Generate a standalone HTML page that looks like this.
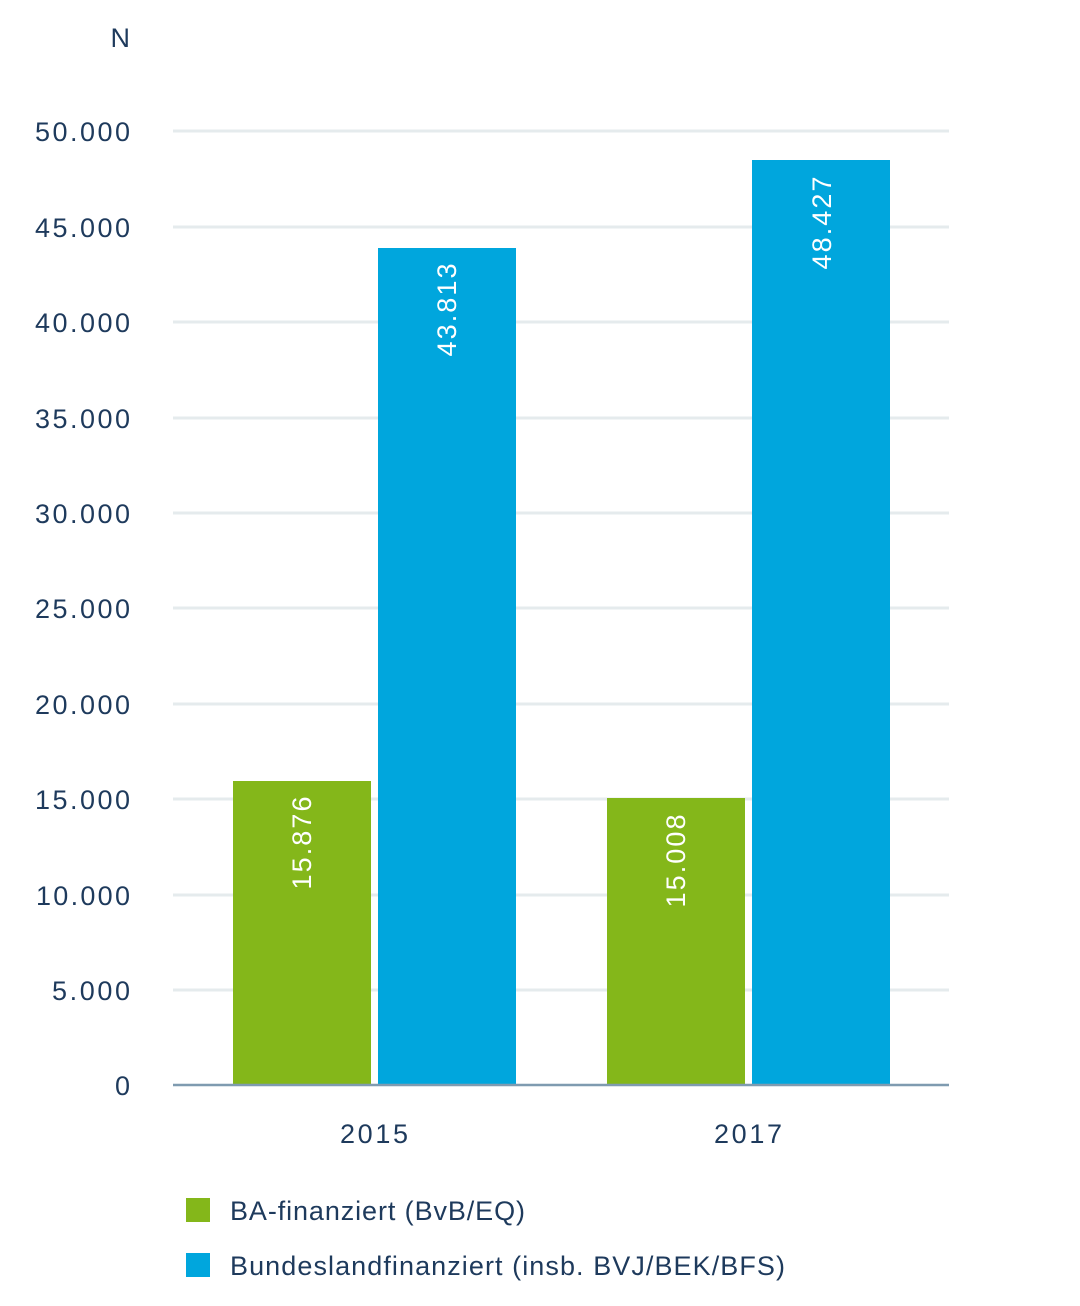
<!DOCTYPE html>
<html><head><meta charset="utf-8"><style>
html,body{margin:0;padding:0;background:#fff;}
svg text{font-family:"Liberation Sans",sans-serif;}
</style></head><body>
<svg width="1080" height="1301" viewBox="0 0 1080 1301" xmlns="http://www.w3.org/2000/svg">
<g stroke="#e5ebed" stroke-width="3">
<line x1="173" x2="949" y1="131" y2="131"/>
<line x1="173" x2="949" y1="227" y2="227"/>
<line x1="173" x2="949" y1="322" y2="322"/>
<line x1="173" x2="949" y1="418" y2="418"/>
<line x1="173" x2="949" y1="513" y2="513"/>
<line x1="173" x2="949" y1="608" y2="608"/>
<line x1="173" x2="949" y1="704" y2="704"/>
<line x1="173" x2="949" y1="799" y2="799"/>
<line x1="173" x2="949" y1="895" y2="895"/>
<line x1="173" x2="949" y1="990" y2="990"/>
</g>
<rect x="233" y="781" width="138" height="304" fill="#84b71a"/>
<rect x="378" y="248" width="138" height="837" fill="#00a6dd"/>
<rect x="607" y="798" width="138" height="287" fill="#84b71a"/>
<rect x="752" y="160" width="138" height="925" fill="#00a6dd"/>
<line x1="173" x2="949" y1="1085" y2="1085" stroke="#7f9bb0" stroke-width="2.5"/>
<g fill="#1e3a5c" font-size="27" text-anchor="end" lengthAdjust="spacingAndGlyphs">
<text x="130" y="141" textLength="95">50.000</text>
<text x="130" y="237" textLength="95">45.000</text>
<text x="130" y="332" textLength="95">40.000</text>
<text x="130" y="428" textLength="95">35.000</text>
<text x="130" y="523" textLength="95">30.000</text>
<text x="130" y="618" textLength="95">25.000</text>
<text x="130" y="714" textLength="95">20.000</text>
<text x="130" y="809" textLength="95">15.000</text>
<text x="130" y="905" textLength="94">10.000</text>
<text x="130" y="1000" textLength="78">5.000</text>
<text x="130" y="1095">0</text>
<text x="130" y="47">N</text>
</g>
<g fill="#1e3a5c" font-size="27" text-anchor="middle">
<text x="374" y="1143" textLength="68">2015</text>
<text x="748" y="1143" textLength="68">2017</text>
</g>
<g fill="#fff" font-size="27" text-anchor="middle">
<text transform="translate(311,843) rotate(-90)" textLength="93">15.876</text>
<text transform="translate(456,310) rotate(-90)" textLength="93">43.813</text>
<text transform="translate(685,861) rotate(-90)" textLength="93">15.008</text>
<text transform="translate(831,223) rotate(-90)" textLength="93">48.427</text>
</g>
<rect x="186" y="1198" width="24" height="24" fill="#84b71a"/>
<rect x="186" y="1253" width="24" height="24" fill="#00a6dd"/>
<g fill="#1e3a5c" font-size="27">
<text x="230" y="1220" textLength="295">BA-finanziert (BvB/EQ)</text>
<text x="230" y="1275" textLength="555">Bundeslandfinanziert (insb. BVJ/BEK/BFS)</text>
</g>
</svg>
</body></html>
